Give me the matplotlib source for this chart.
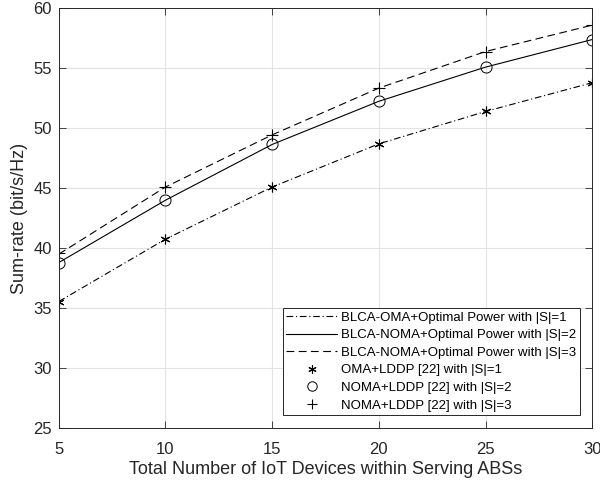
import numpy as np
import matplotlib
matplotlib.use('Agg')
import matplotlib.pyplot as plt

plt.rcParams['font.family'] = ['Liberation Sans', 'DejaVu Sans']

# number of IoT devices
n_dev = [5, 10, 15, 20, 25, 30]

# BLCA + optimal power
oma_s1 = [35.55, 40.75, 45.1, 48.7, 51.4, 53.8]
noma_s2 = [38.8, 44.0, 48.65, 52.25, 55.1, 57.4]
noma_s3 = [39.5, 45.1, 49.45, 53.35, 56.4, 58.6]

# LDDP [22] results (same points)
lddp_s1 = [35.55, 40.75, 45.1, 48.7, 51.4, 53.8]
lddp_s2 = [38.8, 44.0, 48.65, 52.25, 55.1, 57.4]
lddp_s3 = [39.6, 45.1, 49.45, 53.35, 56.4, 58.6]

fig = plt.figure(figsize=(6, 4.84), dpi=100)
ax = fig.add_axes([0.098, 0.1157, 0.889, 0.867])

ax.plot(n_dev, oma_s1, color='k', lw=0.8, linestyle=(0, (6, 2.5, 1, 2.5)),
        label='BLCA-OMA+Optimal Power with |S|=1')
ax.plot(n_dev, noma_s2, color='k', lw=0.8, linestyle='-',
        label='BLCA-NOMA+Optimal Power with |S|=2')
ax.plot(n_dev, noma_s3, color='k', lw=0.8, linestyle=(0, (7, 4)),
        label='BLCA-NOMA+Optimal Power with |S|=3')
ax.plot(n_dev, lddp_s1, color='k', linestyle='none', marker=(6, 2, 0), ms=7,
        mew=0.8, label='OMA+LDDP [22] with |S|=1')
ax.plot(n_dev, lddp_s2, color='k', linestyle='none', marker='o', ms=8,
        mfc='none', mew=0.7, label='NOMA+LDDP [22] with |S|=2')
ax.plot(n_dev, lddp_s3, color='k', linestyle='none', marker='+', ms=9,
        mew=0.8, label='NOMA+LDDP [22] with |S|=3')

ax.set_xlim(5, 30)
ax.set_ylim(25, 60)
ax.set_xticks([5, 10, 15, 20, 25, 30])
ax.set_yticks([25, 30, 35, 40, 45, 50, 55, 60])
ax.grid(True, color='#e3e3e3', lw=0.8)
ax.set_axisbelow(True)
ax.tick_params(direction='in', top=True, right=True, labelsize=12, length=5,
               width=0.6, color='#262626', labelcolor='#262626')
ax.tick_params(axis='x', pad=10)
ax.tick_params(axis='y', pad=5)
for s in ax.spines.values():
    s.set_linewidth(0.7)
    s.set_color('#262626')

ax.set_xlabel('Total Number of IoT Devices within Serving ABSs', fontsize=13,
              color='#262626', labelpad=3)
ax.set_ylabel('Sum-rate (bit/s/Hz)', fontsize=13, color='#262626', labelpad=4)

leg = ax.legend(loc='lower right', fontsize=9.5, fancybox=False, framealpha=1,
                edgecolor='#262626', handlelength=3.8, borderaxespad=0.95,
                labelspacing=0.4, handletextpad=0.3, borderpad=0.3,
                markerscale=0.85)
leg.get_frame().set_linewidth(0.7)

fig.savefig('out.png', dpi=100)
